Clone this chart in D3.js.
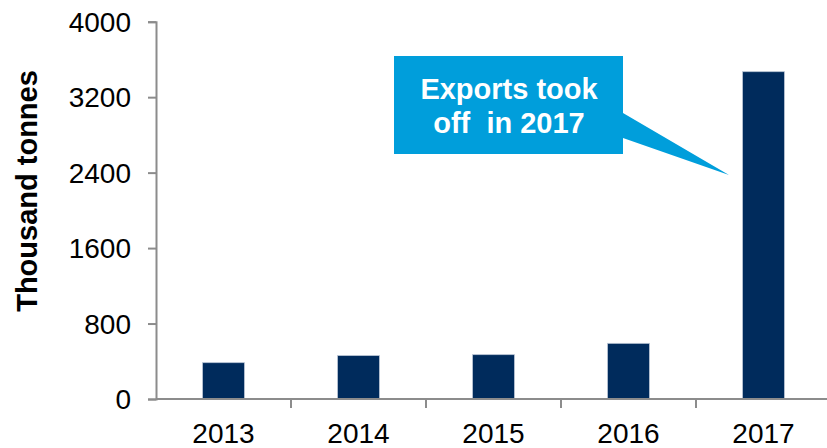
<!DOCTYPE html>
<html>
<head>
    <meta charset='utf-8'>
    <title>Exports</title>
    <script src="https://cdnjs.cloudflare.com/ajax/libs/d3/7.8.5/d3.min.js"></script>
    <style>
        body { margin: 0; background: #fff; }
        svg { display: block; font-family: "Liberation Sans", Arial, sans-serif; }
    </style>
</head>
<body>
    <div id="chart"></div>
    <script>
// Data
const years = ["2013", "2014", "2015", "2016", "2017"];
const exportsKt = [385, 460, 470, 590, 3470];
const yTicks = [0, 800, 1600, 2400, 3200, 4000];

const width = 827;
const height = 448;

const svg = d3.select("#chart")
    .append("svg")
    .attr("width", width)
    .attr("height", height);

// Scales
const x = d3.scaleBand()
    .domain(years)
    .range([156, 831])
    .padding(0);

const y = d3.scaleLinear()
    .domain([0, 4000])
    .range([399, 21.7]);

const barW = x.bandwidth() * 0.31;

// Bars
svg.selectAll("rect.bar")
    .data(years)
    .enter()
    .append("rect")
    .attr("class", "bar")
    .attr("x", d => x(d) + (x.bandwidth() - barW) / 2)
    .attr("y", (d, i) => y(exportsKt[i]))
    .attr("width", barW)
    .attr("height", (d, i) => y(0) - y(exportsKt[i]))
    .style("fill", "#002b5c")
    .style("stroke", "#b8c4d4")
    .style("stroke-width", 0.8);

// Y axis
const yAxis = svg.append("g")
    .attr("transform", "translate(156,0)")
    .call(d3.axisLeft(y).tickValues(yTicks).tickSize(8).tickPadding(17).tickFormat(d3.format("d")));

// X axis
const xAxis = svg.append("g")
    .attr("transform", "translate(0,399)")
    .call(d3.axisBottom(x).tickSize(0).tickPadding(24));

// ticks between categories on x axis
svg.selectAll("line.xtick")
    .data(years.slice(1))
    .enter()
    .append("line")
    .attr("class", "xtick")
    .attr("x1", d => x(d))
    .attr("x2", d => x(d))
    .attr("y1", 399)
    .attr("y2", 408)
    .style("stroke", "#8c8c8c")
    .style("stroke-width", 2);

[yAxis, xAxis].forEach(g => {
    g.select(".domain").style("stroke", "#8c8c8c").style("stroke-width", 2);
    g.selectAll(".tick line").style("stroke", "#8c8c8c").style("stroke-width", 2);
    g.selectAll("text")
        .style("font-family", "'Liberation Sans', Arial, sans-serif")
        .style("font-size", "28px")
        .style("fill", "#000");
});
yAxis.selectAll("text").attr("dy", "0.35em");
xAxis.selectAll("text").attr("dy", "0").attr("y", 44);
xAxis.select(".domain").attr("d", "M156,0H831");

// Y axis title
svg.append("text")
    .attr("transform", "translate(37,191) rotate(-90)")
    .attr("text-anchor", "middle")
    .style("font-size", "29px")
    .style("font-weight", "bold")
    .style("fill", "#000")
    .text("Thousand tonnes");

// Callout
const callout = svg.append("g");
callout.append("path")
    .attr("d", "M394,56H623V113L729,175L623,138V154H394Z")
    .style("fill", "#009edb");

callout.append("text")
    .attr("x", 509)
    .attr("y", 99)
    .attr("text-anchor", "middle")
    .style("font-size", "29px")
    .style("font-weight", "bold")
    .style("fill", "#fff")
    .text("Exports took");

callout.append("text")
    .attr("x", 509)
    .attr("y", 133)
    .attr("text-anchor", "middle")
    .style("font-size", "29px")
    .style("font-weight", "bold")
    .style("fill", "#fff")
    .style("white-space", "pre")
    .text("off  in 2017");
    </script>
</body>
</html>
